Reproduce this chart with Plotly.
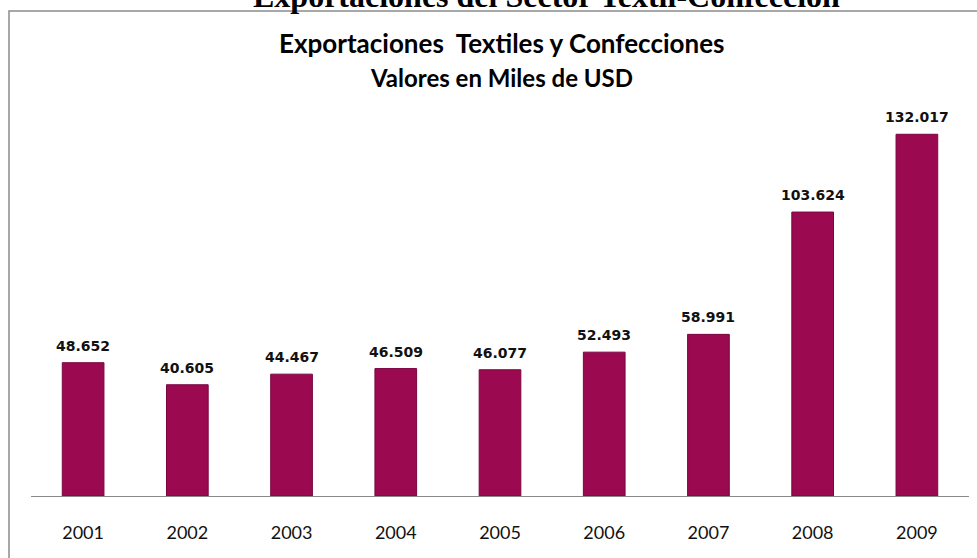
import plotly.graph_objects as go

years = ["2001", "2002", "2003", "2004", "2005", "2006", "2007", "2008", "2009"]
values = [48.652, 40.605, 44.467, 46.509, 46.077, 52.493, 58.991, 103.624, 132.017]
labels = ["48.652", "40.605", "44.467", "46.509", "46.077", "52.493", "58.991", "103.624", "132.017"]

W, H = 977, 558
ml, mr, mt, mb = 31, 8, 85, 62
pw, ph = W - ml - mr, H - mt - mb

def px_to_paper_x(x):
    return (x - ml) / pw

def px_to_paper_y(y):
    return (H - mb - y) / ph

fig = go.Figure()
fig.add_trace(go.Bar(
    x=years, y=values,
    marker=dict(color="#9B0A50", line=dict(color="#7A0640", width=1)),
    width=0.4, hoverinfo="skip",
))

# value labels placed on the category axis by index
value_annotations = [
    dict(x=i, y=v, xref="x", yref="y", text="<b>" + lab + "</b>",
         showarrow=False, yanchor="middle", yshift=17,
         font=dict(family="DejaVu Sans", size=14, color="#111111"))
    for i, (v, lab) in enumerate(zip(values, labels))
]

fig.update_layout(
    width=W, height=H,
    margin=dict(l=ml, r=mr, t=mt, b=mb),
    paper_bgcolor="white", plot_bgcolor="white",
    showlegend=False,
    xaxis=dict(type="category", showline=True, linecolor="#8a8a8a", linewidth=1, ticks="",
               tickfont=dict(family="Lato", size=18, color="#111111"),
               ticklabelstandoff=20, showgrid=False, zeroline=False,
               range=[-0.5, 8.5]),
    yaxis=dict(range=[0, 150], visible=False, showgrid=False, zeroline=False),
    shapes=[dict(type="rect", xref="paper", yref="paper",
                 x0=px_to_paper_x(9), x1=px_to_paper_x(W + 20),
                 y0=px_to_paper_y(H + 20), y1=px_to_paper_y(11),
                 line=dict(color="#8c8c8c", width=1.5), fillcolor="rgba(0,0,0,0)",
                 layer="below")],
    annotations=[
        dict(text="<b>Exportaciones del Sector Textil-Confección</b>",
             xref="paper", yref="paper", x=px_to_paper_x(546), y=px_to_paper_y(-4),
             xanchor="center", yanchor="middle", showarrow=False,
             font=dict(family="Liberation Serif", size=32, color="#000000")),
        dict(text="<b>Exportaciones  Textiles y Confecciones</b>",
             xref="paper", yref="paper", x=px_to_paper_x(501), y=px_to_paper_y(43),
             xanchor="center", yanchor="middle", showarrow=False,
             font=dict(family="Lato", size=26, color="#000000")),
        dict(text="<b>Valores en Miles de USD</b>",
             xref="paper", yref="paper", x=px_to_paper_x(501), y=px_to_paper_y(77),
             xanchor="center", yanchor="middle", showarrow=False,
             font=dict(family="Lato", size=24, color="#000000")),
    ] + value_annotations,
)

fig.write_html("out.html", config={"displayModeBar": False},
               post_script="document.body.style.margin='0';")
